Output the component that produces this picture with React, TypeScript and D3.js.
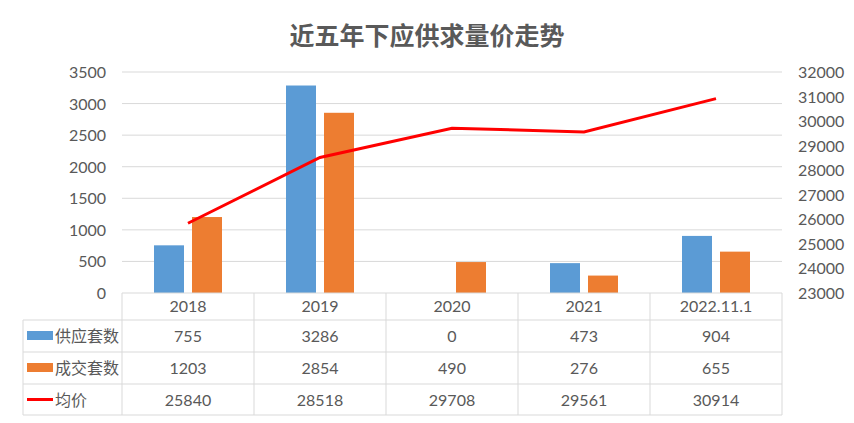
import React from "react";
import * as d3 from "d3";

const categories = ["2018", "2019", "2020", "2021", "2022.11.1"];
const supply = [755, 3286, 0, 473, 904];
const deals = [1203, 2854, 490, 276, 655];
const avgPrice = [25840, 28518, 29708, 29561, 30914];
const leftTicks = [0, 500, 1000, 1500, 2000, 2500, 3000, 3500];
const rightTicks = [23000, 24000, 25000, 26000, 27000, 28000, 29000, 30000, 31000, 32000];
const seriesNames = ["供应套数", "成交套数", "均价"];

const W = 854, H = 423;
const plotL = 122, plotR = 782, plotT = 72, plotB = 293;
const rowLines = [293, 320, 352, 384, 415];
const tableL = 23;
const BLUE = "#5b9bd5", ORANGE = "#ed7d31", RED = "#ff0000", TXT = "#595959", GRID = "#d9d9d9";
const FONT = "Lato, 'Noto Sans CJK SC', sans-serif";

export default function App() {
  const x = d3.scaleBand<string>().domain(categories).range([plotL, plotR]);
  const yL = d3.scaleLinear().domain([0, 3500]).range([plotB, plotT]);
  const yR = d3.scaleLinear().domain([23000, 32000]).range([plotB, plotT]);
  const barW = 30, gap = 8;
  const line = d3.line<number>()
    .x((_, i) => x(categories[i])! + x.bandwidth() / 2)
    .y(d => yR(d));
  const rows = [supply, deals, avgPrice];
  return (
    <svg width={W} height={H} style={{ position: "absolute", left: 0, top: 0, background: "#fff" }} fontFamily={FONT}>
      <rect width={W} height={H} fill="#fff" />
      <text x={427} y={45} textAnchor="middle" fontSize={25} fontWeight="bold" fill={TXT}>近五年下应供求量价走势</text>
      {leftTicks.map(t => (
        <g key={t}>
          {t > 0 && <line x1={plotL} x2={plotR} y1={yL(t)} y2={yL(t)} stroke={GRID} strokeWidth={1} />}
          <text x={106} y={yL(t) + 6} textAnchor="end" fontSize={16} fill={TXT}>{t}</text>
        </g>
      ))}
      {rightTicks.map(t => (
        <text key={t} x={798} y={yR(t) + 6} fontSize={16} fill={TXT}>{t}</text>
      ))}
      {categories.map((c, i) => {
        const cx = x(c)! + x.bandwidth() / 2;
        return (
          <g key={c}>
            <rect x={cx - gap / 2 - barW} y={yL(supply[i])} width={barW} height={plotB - yL(supply[i])} fill={BLUE} />
            <rect x={cx + gap / 2} y={yL(deals[i])} width={barW} height={plotB - yL(deals[i])} fill={ORANGE} />
          </g>
        );
      })}
      <path d={line(avgPrice) || ""} fill="none" stroke={RED} strokeWidth={3} />
      {/* table */}
      <line x1={plotL} x2={plotR} y1={rowLines[0]} y2={rowLines[0]} stroke={GRID} />
      {rowLines.slice(1).map(y => (
        <line key={y} x1={tableL} x2={plotR} y1={y} y2={y} stroke={GRID} />
      ))}
      <line x1={tableL} x2={tableL} y1={rowLines[1]} y2={rowLines[4]} stroke={GRID} />
      {[...categories.map(c => x(c)!), plotR].map((vx, i) => (
        <line key={i} x1={vx} x2={vx} y1={rowLines[0]} y2={rowLines[4]} stroke={GRID} />
      ))}
      {categories.map(c => (
        <text key={c} x={x(c)! + x.bandwidth() / 2} y={312} textAnchor="middle" fontSize={16} fill={TXT}>{c}</text>
      ))}
      {rows.map((vals, r) => {
        const yMid = (rowLines[r + 1] + rowLines[r + 2]) / 2;
        return (
          <g key={r}>
            {r < 2 ? (
              <rect x={27} y={yMid - 5} width={26} height={9} fill={r === 0 ? BLUE : ORANGE} />
            ) : (
              <line x1={27} x2={53} y1={yMid} y2={yMid} stroke={RED} strokeWidth={3} />
            )}
            <text x={55} y={yMid + 6} fontSize={16} fill={TXT}>{seriesNames[r]}</text>
            {vals.map((v, i) => (
              <text key={i} x={x(categories[i])! + x.bandwidth() / 2} y={yMid + 6} textAnchor="middle" fontSize={16} fill={TXT}>{v}</text>
            ))}
          </g>
        );
      })}
    </svg>
  );
}
